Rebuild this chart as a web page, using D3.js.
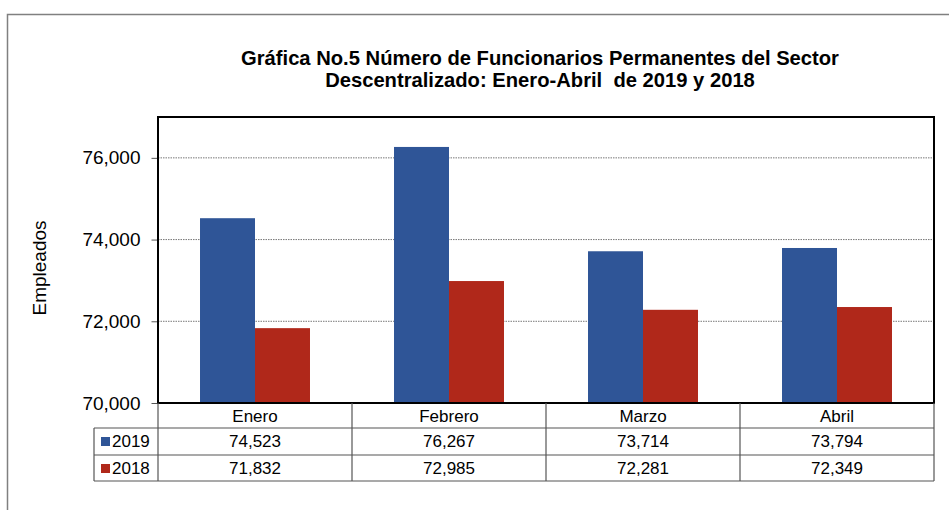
<!DOCTYPE html>
<html>
<head>
<meta charset="utf-8">
<script src="https://cdn.jsdelivr.net/npm/d3@7"></script>
<style>
  body { margin: 0; background: #fff; }
  text { font-family: "Liberation Sans", Arial, sans-serif; fill: #000; }
</style>
</head>
<body>
<div id="chart"></div>
<script>
// chart data
var months = ["Enero", "Febrero", "Marzo", "Abril"];
var seriesNames = ["2019", "2018"];
var values2019 = [74523, 76267, 73714, 73794];
var values2018 = [71832, 72985, 72281, 72349];
var yTicks = [70000, 72000, 74000, 76000];
var colors = ["#2F5597", "#B0281A"];

var svgWidth = 949;
var svgHeight = 510;

var plot = { left: 158, top: 117, right: 934, bottom: 403 };
var rowH = [25, 27, 26];

var svg = d3.select("#chart")
  .append("svg")
  .attr("width", svgWidth)
  .attr("height", svgHeight);

// outer frame
svg.append("rect")
  .attr("x", 7.5).attr("y", 14.5)
  .attr("width", 1000).attr("height", 600)
  .attr("fill", "none")
  .attr("stroke", "#808080")
  .attr("stroke-width", 1.5);

// title
var title = svg.append("text")
  .attr("text-anchor", "middle")
  .attr("font-size", "20.2px")
  .attr("font-weight", "bold");
title.append("tspan").attr("x", 540).attr("y", 65)
  .text("Gráfica No.5 Número de Funcionarios Permanentes del Sector");
title.append("tspan").attr("x", 540).attr("y", 87)
  .attr("xml:space", "preserve")
  .text("Descentralizado: Enero-Abril  de 2019 y 2018");

var x0 = d3.scaleBand()
  .domain(months)
  .range([plot.left, plot.right])
  .paddingInner(0)
  .paddingOuter(0);

var x1 = d3.scaleBand()
  .domain(seriesNames)
  .range([0, x0.bandwidth()])
  .paddingInner(0)
  .paddingOuter(0.764);

var y = d3.scaleLinear()
  .domain([70000, 77000])
  .range([plot.bottom, plot.top]);

// gridlines
svg.append("g")
  .selectAll("line")
  .data(yTicks.slice(1))
  .enter()
  .append("line")
  .attr("x1", plot.left).attr("x2", plot.right)
  .attr("y1", d => y(d)).attr("y2", d => y(d))
  .attr("stroke", "#777")
  .attr("stroke-width", 1)
  .attr("stroke-dasharray", "1.5,1");

// y axis
var leftAxis = d3.axisLeft(y)
  .tickValues(yTicks)
  .tickSize(6)
  .tickPadding(11)
  .tickFormat(d3.format(","));

var yAxis = svg.append("g")
  .attr("transform", `translate(${plot.left - 0.5}, 0)`)
  .call(leftAxis);
yAxis.select(".domain").remove();
yAxis.selectAll(".tick line").attr("stroke", "#555");
yAxis.selectAll("text")
  .attr("font-size", "19px")
  .attr("font-family", "Liberation Sans, Arial, sans-serif")
  .attr("fill", "#000");

// bars
var seriesData = [values2019, values2018];
var groups = svg.append("g")
  .selectAll("g")
  .data(seriesNames)
  .enter()
  .append("g")
  .attr("fill", (d, i) => colors[i]);

groups.selectAll("rect")
  .data((s, i) => seriesData[i].map((v, j) => ({ month: months[j], series: s, value: v })))
  .enter()
  .append("rect")
  .attr("x", d => x0(d.month) + x1(d.series))
  .attr("y", d => y(d.value))
  .attr("width", x1.bandwidth())
  .attr("height", d => plot.bottom - y(d.value));

// plot border
svg.append("rect")
  .attr("x", plot.left).attr("y", plot.top)
  .attr("width", plot.right - plot.left)
  .attr("height", plot.bottom - plot.top)
  .attr("fill", "none")
  .attr("stroke", "#000")
  .attr("stroke-width", 2);

// y axis label
svg.append("text")
  .attr("transform", `translate(46, 268) rotate(-90)`)
  .attr("text-anchor", "middle")
  .attr("font-size", "19px")
  .text("Empleados");

// data table
var tableTop = plot.bottom;
var legendLeft = 94;
var r1 = tableTop + rowH[0];
var r2 = r1 + rowH[1];
var r3 = r2 + rowH[2];
var table = svg.append("g")
  .attr("stroke", "#555")
  .attr("stroke-width", 1.2);

// horizontal lines
table.append("line").attr("x1", legendLeft).attr("x2", plot.right).attr("y1", r1).attr("y2", r1);
table.append("line").attr("x1", legendLeft).attr("x2", plot.right).attr("y1", r2).attr("y2", r2);
table.append("line").attr("x1", legendLeft).attr("x2", plot.right).attr("y1", r3).attr("y2", r3);
// vertical lines
table.append("line").attr("x1", legendLeft).attr("x2", legendLeft).attr("y1", r1).attr("y2", r3);
table.selectAll(".vline")
  .data(months)
  .enter()
  .append("line")
  .attr("class", "vline")
  .attr("x1", d => x0(d)).attr("x2", d => x0(d))
  .attr("y1", tableTop).attr("y2", r3);
table.append("line").attr("x1", plot.right).attr("x2", plot.right).attr("y1", tableTop).attr("y2", r3);

// month labels
svg.append("g")
  .selectAll("text")
  .data(months)
  .enter()
  .append("text")
  .attr("x", d => x0(d) + x0.bandwidth() / 2)
  .attr("y", tableTop + 19)
  .attr("text-anchor", "middle")
  .attr("font-size", "17px")
  .text(d => d);

// series rows
var rowTops = [r1, r2];
seriesNames.forEach(function(name, i) {
  var row = svg.append("g");
  row.append("rect")
    .attr("x", 101).attr("y", rowTops[i] + 9)
    .attr("width", 9).attr("height", 9)
    .attr("fill", colors[i]);
  row.append("text")
    .attr("x", 112).attr("y", rowTops[i] + 19)
    .attr("font-size", "17px")
    .text(name);
  row.selectAll(".val")
    .data(seriesData[i])
    .enter()
    .append("text")
    .attr("class", "val")
    .attr("x", (d, j) => x0(months[j]) + x0.bandwidth() / 2)
    .attr("y", rowTops[i] + 19)
    .attr("text-anchor", "middle")
    .attr("font-size", "17px")
    .text(d => d3.format(",")(d));
});
</script>
</body>
</html>
